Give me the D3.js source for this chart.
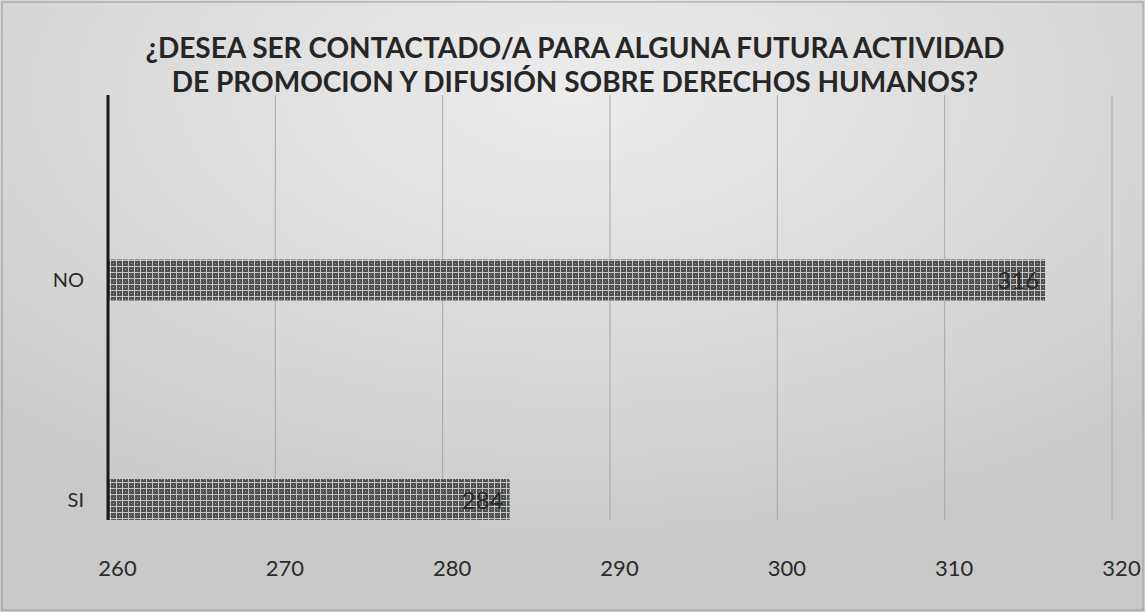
<!DOCTYPE html>
<html>
<head>
<meta charset="utf-8">
<script src="https://cdn.jsdelivr.net/npm/d3@7"></script>
<style>
  body { margin: 0; background: #d6d6d6; }
  svg { display: block; font-family: Lato, "Open Sans", sans-serif; }
</style>
</head>
<body>
<div id="chart"></div>
<script>
// data
const categories = ['SI', 'NO'];
const values = [284, 316];
const xTicks = [260, 270, 280, 290, 300, 310, 320];
const titleLines = ['¿DESEA SER CONTACTADO/A PARA ALGUNA FUTURA ACTIVIDAD',
                    'DE PROMOCION Y DIFUSIÓN SOBRE DERECHOS HUMANOS?'];

const width = 1145, height = 612;
const plotLeft = 108, plotRight = 1112, plotTop = 95, plotBottom = 520;

const svg = d3.select('#chart').append('svg')
    .attr('width', width)
    .attr('height', height);

const defs = svg.append('defs');

// scanned grey paper look
const bg = defs.append('radialGradient')
    .attr('id', 'bg')
    .attr('cx', '50%').attr('cy', '15%').attr('r', '75%');
bg.append('stop').attr('offset', '0%').attr('stop-color', '#ececec');
bg.append('stop').attr('offset', '55%').attr('stop-color', '#dadada');
bg.append('stop').attr('offset', '100%').attr('stop-color', '#c9c9c9');

// checkered bar fill
const pat = defs.append('pattern')
    .attr('id', 'checks')
    .attr('patternUnits', 'userSpaceOnUse')
    .attr('width', 6).attr('height', 6);
pat.append('rect').attr('width', 6).attr('height', 6).attr('fill', '#505050');
pat.append('rect').attr('x', 0).attr('y', 2).attr('width', 6).attr('height', 1).attr('fill', '#c4c4c4');
pat.append('rect').attr('x', 2).attr('y', 0).attr('width', 1).attr('height', 6).attr('fill', '#c4c4c4');
pat.append('rect').attr('x', 5).attr('y', 5).attr('width', 1).attr('height', 1).attr('fill', '#a0a0a0');

svg.append('rect')
    .attr('width', width).attr('height', height)
    .attr('fill', 'url(#bg)');
svg.append('rect')
    .attr('x', 2).attr('y', 2).attr('width', width - 4).attr('height', height - 4)
    .attr('fill', 'none').attr('stroke', '#9a9a9a').attr('stroke-width', 1);

// title
svg.append('g')
    .selectAll('text')
    .data(titleLines)
    .join('text')
    .attr('x', 575)
    .attr('y', (d, i) => 58 + i * 34)
    .attr('text-anchor', 'middle')
    .style('font-size', '28px')
    .style('font-weight', 'bold')
    .attr('fill', '#262626')
    .text(d => d);

const xscale = d3.scaleLinear()
    .domain([260, 320])
    .range([plotLeft, plotRight]);

const yscale = d3.scaleBand()
    .domain(categories.slice().reverse())
    .range([plotTop, plotBottom]);

const barH = 41;
const barY = d => yscale(d) + yscale.bandwidth() - barH - (d === 'NO' ? 7 : 0);

// vertical gridlines
svg.append('g')
    .selectAll('line')
    .data(xTicks.slice(1))
    .join('line')
    .attr('x1', d => xscale(d)).attr('x2', d => xscale(d))
    .attr('y1', plotTop).attr('y2', plotBottom)
    .attr('stroke', '#a8a8a8')
    .attr('stroke-width', 1);

// bars
const bars = svg.append('g');
bars.selectAll('rect')
    .data(categories)
    .join('rect')
    .attr('x', xscale(260))
    .attr('y', d => barY(d))
    .attr('width', (d, i) => xscale(values[i]) - xscale(260))
    .attr('height', barH)
    .attr('fill', 'url(#checks)');

// value labels
bars.selectAll('text')
    .data(categories)
    .join('text')
    .attr('x', (d, i) => xscale(values[i]) - 6)
    .attr('y', d => barY(d) + barH / 2 + 9)
    .attr('text-anchor', 'end')
    .style('font-size', '24px')
    .attr('fill', '#2a2a2a')
    .text((d, i) => values[i]);

// category axis line and labels
svg.append('line')
    .attr('x1', plotLeft).attr('x2', plotLeft)
    .attr('y1', plotTop).attr('y2', plotBottom)
    .attr('stroke', '#1a1a1a').attr('stroke-width', 3);

svg.append('g')
    .selectAll('text')
    .data(categories)
    .join('text')
    .attr('x', plotLeft - 24)
    .attr('y', d => barY(d) + barH / 2 + 7)
    .attr('text-anchor', 'end')
    .style('font-size', '20px')
    .attr('fill', '#2a2a2a')
    .text(d => d);

// x axis labels
const xaxis = d3.axisBottom(xscale).tickValues(xTicks).tickSize(0).tickPadding(0);
const gx = svg.append('g')
    .attr('transform', `translate(9, ${plotBottom + 40})`)
    .call(xaxis);
gx.select('.domain').remove();
gx.selectAll('text')
    .style('font-size', '22px')
    .style('font-family', 'Lato, "Open Sans", sans-serif')
    .attr('fill', '#2a2a2a');
</script>
</body>
</html>
